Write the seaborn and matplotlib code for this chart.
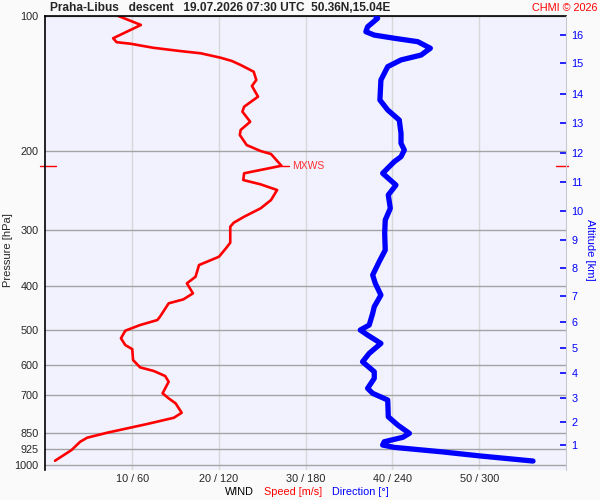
import pandas as pd
import seaborn as sns
import matplotlib
matplotlib.use('Agg')
import matplotlib.pyplot as plt
import matplotlib.transforms as mtransforms
from matplotlib.ticker import NullLocator

# Wind speed profile (pressure hPa, speed m/s)
pres_spd = [100, 104.7, 112.1, 114.4, 115.3, 117.7, 119.7, 121.1, 123.9, 126.0,
            128.6, 133.1, 138.9, 143.2, 151.3, 159.3, 163.4, 172.1, 179.5, 184.2,
            194.0, 200.0, 203.1, 215.7, 224.2, 232.1, 237.3, 244.3, 257.2, 268.4,
            280.2, 289.0, 295.0, 320.2, 329.6, 344.1, 359.1, 381.3, 394.5, 415.3,
            428.3, 437.1, 468.2, 476.2, 488.7, 503.0, 523.0, 541.6, 552.9, 584.8,
            607.2, 618.8, 634.9, 653.8, 693.8, 711.9, 730.4, 766.5, 786.5, 812.3,
            849.4, 871.4, 889.6, 928.4, 980.6]
speed = [8.4, 11.0, 7.8, 8.2, 9.8, 12.4, 15.5, 17.9, 20.2, 21.5,
         22.5, 24.0, 24.3, 23.8, 24.5, 22.9, 22.7, 23.6, 22.5, 22.4,
         23.2, 24.8, 26.0, 27.2, 22.9, 22.8, 24.8, 26.7, 26.0, 24.8,
         22.9, 21.7, 21.3, 21.3, 20.8, 20.0, 17.7, 17.3, 16.3, 17.0,
         15.9, 14.2, 13.2, 12.9, 10.9, 9.2, 8.7, 9.2, 10.0, 10.1,
         10.9, 12.5, 13.8, 14.2, 13.5, 14.2, 15.0, 15.7, 14.8, 11.7,
         7.1, 4.8, 4.0, 3.0, 1.1]

# Wind direction profile (pressure hPa, direction deg)
pres_dir = [100, 101.2, 105.7, 108.4, 110.3, 112.1, 114.1, 118.0, 122.2, 125.3,
            129.7, 138.9, 153.9, 162.0, 170.6, 182.6, 192.2, 199.0, 205.9, 211.3,
            224.2, 238.2, 250.6, 268.4, 285.0, 305.2, 332.5, 353.0, 378.0, 394.5,
            418.9, 444.8, 460.2, 488.7, 501.3, 514.4, 537.0, 565.1, 590.0, 621.0,
            642.5, 676.3, 693.8, 718.0, 782.5, 816.4, 852.0, 869.6, 889.6, 904.7,
            915.6, 936.5, 957.4, 982.2]
direction = [228.5, 229.7, 222.8, 221.6, 227.4, 241.2, 257.5, 266.2, 259.8, 245.9,
             236.7, 232.0, 231.3, 236.7, 244.7, 245.9, 245.9, 248.2, 245.9, 241.2,
             233.2, 242.4, 237.1, 238.5, 235.0, 234.6, 235.0, 230.8, 226.3, 228.1,
             232.0, 227.4, 226.3, 223.9, 217.7, 222.8, 232.0, 223.9, 219.3, 227.4,
             227.4, 222.8, 226.3, 236.7, 237.1, 243.6, 251.7, 247.1, 234.3, 233.2,
             241.2, 273.6, 301.4, 337.2]

p_levels = [100, 200, 300, 400, 500, 600, 700, 850, 925, 1000]
spd_ticks = [10, 20, 30, 40, 50]
spd_tick_labels = ['10 / 60', '20 / 120', '30 / 180', '40 / 240', '50 / 300']
alt_km = list(range(1, 17))
alt_pres = [904, 804, 711, 625, 550, 481, 421, 365, 316, 272,
            234.5, 202, 173, 149, 127, 110]

sns.set_style('white')
plt.rcParams['font.family'] = ['Liberation Sans', 'DejaVu Sans']
plt.rcParams['font.size'] = 7.5

df_spd = pd.DataFrame({'pressure': pres_spd, 'speed': speed})
df_dir = pd.DataFrame({'pressure': pres_dir, 'direction': direction})

fig = plt.figure(figsize=(6, 5), dpi=100, facecolor='#fafafa')
ax = fig.add_axes([0.0758, 0.0594, 0.8675, 0.9086])
ax.set_facecolor('#f2f2fe')
ax.set_yscale('log')
ax.set_ylim(1030, 100)
ax.set_xlim(0, 60)

# grid
ax.set_yticks(p_levels)
ax.set_yticklabels([str(p) for p in p_levels])
ax.yaxis.set_minor_locator(NullLocator())
ax.set_xticks(spd_ticks)
ax.set_xticklabels(spd_tick_labels)
ax.grid(axis='y', color='#a4a4a4', lw=1.0)
ax.grid(axis='x', color='#d8d8d8', lw=1.0)
ax.tick_params(axis='y', length=0, pad=5, labelsize=7.8)
ax.tick_params(axis='x', length=0, pad=3, labelsize=7.8)
for s in ['bottom', 'right']:
    ax.spines[s].set_visible(False)
ax.spines['left'].set_color('black')
ax.spines['top'].set_color('black')
ax.spines['left'].set_linewidth(1.2)
ax.spines['top'].set_linewidth(1.2)

# speed
sns.lineplot(data=df_spd, x='speed', y='pressure', sort=False, estimator=None,
             orient='y', color='#ff0000', lw=1.9, ax=ax)
ax.set_xlabel('')
ax.set_ylabel('Pressure [hPa]', fontsize=8)
ax.yaxis.set_label_coords(-0.062, 0.485)

# direction on its own x scale
axd = ax.twiny()
axd.set_xlim(0, 360)
sns.lineplot(data=df_dir, x='direction', y='pressure', sort=False, estimator=None,
             orient='y', color='#0000ff', lw=3.8, ax=axd)
axd.axis('off')

# altitude axis
axa = ax.twinx()
axa.set_yscale('log')
axa.set_ylim(1030, 100)
axa.set_yticks(alt_pres)
axa.set_yticklabels([str(k) for k in alt_km])
axa.yaxis.set_minor_locator(NullLocator())
axa.tick_params(axis='y', direction='in', length=4.5, width=1.2, color='#0000ff',
                labelcolor='#0000ff', pad=4, labelsize=7.8)
for s in ['top', 'bottom', 'left']:
    axa.spines[s].set_visible(False)
axa.spines['right'].set_color('#c8c8d4')
axa.set_ylabel('Altitude [km]', rotation=270, color='#0000ff', fontsize=8,
               va='center', ha='center')
axa.yaxis.set_label_coords(1.047, 0.485)

# max wind marker
i_mx = speed.index(max(speed))
p_mx = pres_spd[i_mx]
trans = mtransforms.blended_transform_factory(ax.transAxes, ax.transData)
ax.plot([-0.01, 0.02], [p_mx, p_mx], color='#ff0000', lw=1.0, transform=trans, clip_on=False)
ax.plot([0.98, 1.004], [p_mx, p_mx], color='#ff0000', lw=1.0, transform=trans, clip_on=False)
ax.plot([speed[i_mx], speed[i_mx] + 0.9], [p_mx, p_mx], color='#ff0000', lw=1.0)
ax.annotate('MXWS', xy=(speed[i_mx], p_mx), xytext=(8, 0), textcoords='offset points',
            color='#ff3030', fontsize=7.5, va='center', ha='left')

# header / footer text
fig.text(0.083, 0.984, 'Praha-Libus   descent   19.07.2026 07:30 UTC  50.36N,15.04E',
         fontsize=8.6, fontweight='bold', va='center', ha='left')
fig.text(0.995, 0.984, 'CHMI \u00a9 2026', color='#ff0000', fontsize=7.8, va='center', ha='right')
fig.text(0.375, 0.016, 'WIND', color='black', fontsize=7.8, va='center', ha='left')
fig.text(0.44, 0.016, 'Speed [m/s]', color='#ff0000', fontsize=7.8, va='center', ha='left')
fig.text(0.553, 0.016, 'Direction [\u00b0]', color='#0000ff', fontsize=7.8, va='center', ha='left')

fig.savefig('out.png', dpi=100, facecolor=fig.get_facecolor())
